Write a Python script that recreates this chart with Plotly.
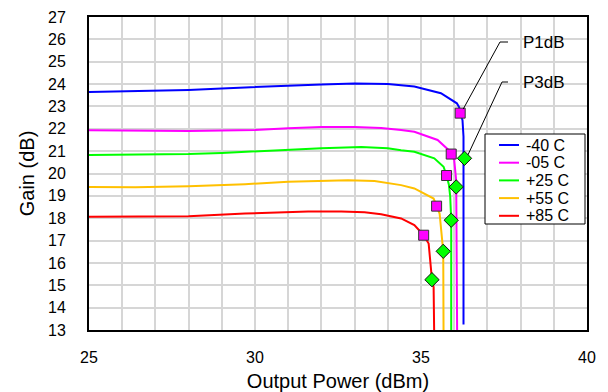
import plotly.graph_objects as go

# ---- data -------------------------------------------------------------
temps = ["-40 C", "-05 C", "+25 C", "+55 C", "+85 C"]
colors = ["#0000FF", "#FF00FF", "#00FF00", "#FFC000", "#FF0000"]

pout_m40 = [25.0, 27.0, 28.0, 29.0, 29.7, 32.0, 33.0, 34.0, 34.4, 34.8, 35.6,
            36.08, 36.15, 36.18, 36.25, 36.28, 36.28]
gain_m40 = [23.65, 23.69, 23.74, 23.80, 23.85, 23.98, 24.02, 24.00, 23.95, 23.89,
            23.59, 23.14, 22.96, 22.70, 22.39, 21.65, 13.25]

pout_m05 = [25.0, 26.0, 27.0, 28.0, 29.0, 30.0, 31.0, 32.0, 33.0, 33.8, 34.4,
            34.8, 35.5, 35.83, 35.91, 36.0, 36.06, 36.06, 36.08, 36.09]
gain_m05 = [21.93, 21.92, 21.89, 21.90, 21.92, 21.95, 22.02, 22.08, 22.08, 22.03,
            21.95, 21.87, 21.50, 21.05, 20.87, 20.60, 19.70, 19.40, 17.46, 12.5]

pout_p25 = [25.0, 26.0, 27.0, 28.0, 29.0, 29.7, 31.0, 32.0, 33.2, 34.0, 34.4,
            34.8, 35.4, 35.68, 35.77, 35.84, 35.88, 35.91, 35.91]
gain_p25 = [20.83, 20.84, 20.85, 20.87, 20.92, 20.97, 21.08, 21.13, 21.18, 21.13,
            21.04, 20.97, 20.68, 20.30, 19.91, 19.50, 18.96, 17.91, 12.5]

pout_p55 = [25.0, 26.4, 28.0, 29.7, 31.0, 32.0, 32.8, 33.6, 34.0, 34.4, 34.8,
            35.38, 35.47, 35.56, 35.67, 35.68, 35.68]
gain_p55 = [19.40, 19.38, 19.43, 19.52, 19.63, 19.67, 19.70, 19.66, 19.56, 19.48,
            19.33, 18.88, 18.54, 18.21, 16.52, 15.0, 12.5]

pout_p85 = [25.0, 28.0, 29.7, 31.0, 31.6, 32.6, 33.3, 33.8, 34.4, 34.8, 35.0,
            35.08, 35.23, 35.33, 35.38, 35.40]
gain_p85 = [18.06, 18.09, 18.21, 18.26, 18.30, 18.30, 18.27, 18.18, 17.99, 17.69,
            17.39, 17.24, 16.87, 15.25, 14.92, 12.5]

p1db_pout = [36.18, 35.91, 35.77, 35.47, 35.08]
p1db_gain = [22.70, 20.87, 19.91, 18.54, 17.24]
p3db_pout = [36.31, 36.06, 35.91, 35.67, 35.33]
p3db_gain = [20.68, 19.40, 17.91, 16.52, 15.25]

curves = [(pout_m40, gain_m40), (pout_m05, gain_m05), (pout_p25, gain_p25),
          (pout_p55, gain_p55), (pout_p85, gain_p85)]

# ---- layout geometry ---------------------------------------------------
W, H = 608, 392
ML, MR, MT, MB = 89, 21, 17, 62
PW, PH = W - ML - MR, H - MT - MB
XMIN, XMAX, YMIN, YMAX = 25, 40, 13, 27
FONT = "Liberation Sans, Arial, sans-serif"


def px_to_x(px):
    return XMIN + (px - ML) / PW * (XMAX - XMIN)


def py_to_y(py):
    return YMAX - (py - MT) / PH * (YMAX - YMIN)


def dx(pixels):
    return pixels / PW * (XMAX - XMIN)


def dy(pixels):
    return pixels / PH * (YMAX - YMIN)


def paper_x(px):
    return (px - ML) / PW


def paper_y(py):
    return (H - MB - py) / PH


fig = go.Figure()

for (xs, ys), name, col in zip(curves, temps, colors):
    fig.add_trace(go.Scatter(x=xs, y=ys, mode="lines", name=name,
                             line=dict(color=col, width=2),
                             showlegend=False))

fig.add_trace(go.Scatter(x=p1db_pout, y=p1db_gain, mode="markers", name="P1dB",
                         marker=dict(symbol="square", size=10, color="#FF00FF",
                                     line=dict(color="#333333", width=1)),
                         showlegend=False))
fig.add_trace(go.Scatter(x=p3db_pout, y=p3db_gain, mode="markers", name="P3dB",
                         marker=dict(symbol="diamond", size=11, color="#00FF00",
                                     line=dict(color="#111111", width=1)),
                         showlegend=False))

# leader lines and callout labels for P1dB / P3dB
callouts = [
    ("P1dB", p1db_pout[0] + dx(3), p1db_gain[0] + dy(4), 500, 42),
    ("P3dB", p3db_pout[0] + dx(3.5), p3db_gain[0] + dy(3.5), 502, 82),
]
for label, sx, sy, ex, ey in callouts:
    fig.add_trace(go.Scatter(
        x=[sx, px_to_x(ex), px_to_x(508)],
        y=[sy, py_to_y(ey), py_to_y(ey)],
        mode="lines", line=dict(color="#000000", width=1),
        showlegend=False, hoverinfo="skip", cliponaxis=False))
    fig.add_annotation(x=px_to_x(521), y=py_to_y(ey), text=label,
                       showarrow=False, xanchor="left", yanchor="middle",
                       font=dict(family=FONT, size=17, color="#000000"))

# legend box drawn in paper coordinates
shapes = [dict(type="rect", xref="paper", yref="paper",
               x0=paper_x(485), x1=paper_x(585), y0=paper_y(224), y1=paper_y(134),
               line=dict(color="#000000", width=1), fillcolor="#FFFFFF", layer="above")]
for i, (name, col) in enumerate(zip(temps, colors)):
    cy = 145 + i * 17.7
    shapes.append(dict(type="line", xref="paper", yref="paper",
                       x0=paper_x(499), x1=paper_x(519),
                       y0=paper_y(cy), y1=paper_y(cy),
                       line=dict(color=col, width=2), layer="above"))
    fig.add_annotation(xref="paper", yref="paper", x=paper_x(524),
                       y=paper_y(cy), text=name, showarrow=False,
                       xanchor="left", yanchor="middle",
                       font=dict(family=FONT, size=16, color="#000000"))

grid = "#D6D6D6"
fig.update_layout(
    width=W, height=H,
    margin=dict(l=ML, r=MR, t=MT, b=MB),
    paper_bgcolor="#FFFFFF", plot_bgcolor="#FFFFFF",
    font=dict(family=FONT, color="#000000"),
    shapes=shapes,
    showlegend=False,
    xaxis=dict(range=[XMIN, XMAX], tickmode="linear", tick0=25, dtick=5,
               showgrid=True, gridcolor=grid, gridwidth=1.5,
               minor=dict(tickmode="linear", tick0=25, dtick=1, showgrid=True,
                          gridcolor=grid, gridwidth=1.5),
               showline=True, linecolor="#000000", linewidth=2, mirror=True,
               ticks="", ticklabelstandoff=12, zeroline=False, automargin=False,
               tickfont=dict(size=16),
               title=dict(text="Output Power (dBm)", font=dict(size=20), standoff=17)),
    yaxis=dict(range=[YMIN, YMAX], tickmode="linear", tick0=13, dtick=1,
               showgrid=True, gridcolor=grid, gridwidth=1.5,
               showline=True, linecolor="#000000", linewidth=2, mirror=True,
               ticks="", ticklabelstandoff=18, zeroline=False, automargin=False,
               tickfont=dict(size=16),
               title=dict(text="Gain (dB)", font=dict(size=20), standoff=8)),
)

fig.write_html("out.html")
